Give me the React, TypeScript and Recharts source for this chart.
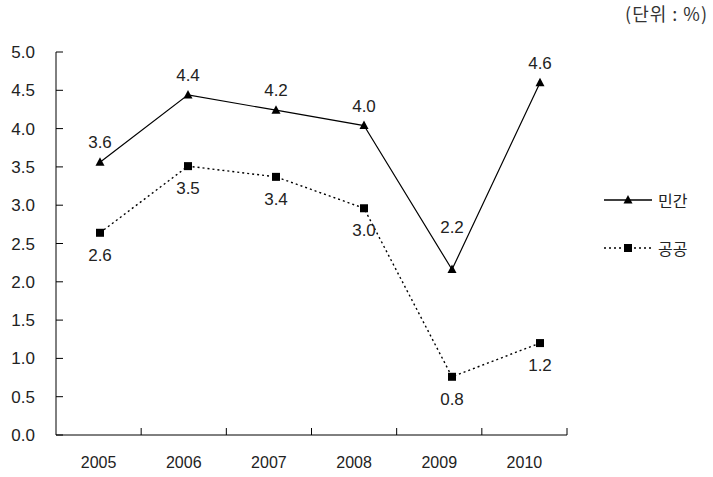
import React from 'react';
import { LineChart, Line, XAxis, YAxis, LabelList } from 'recharts';

const years = ['2005', '2006', '2007', '2008', '2009', '2010'];
const privateRate = [3.56, 4.44, 4.24, 4.04, 2.16, 4.6]; // 민간
const publicRate = [2.64, 3.51, 3.37, 2.96, 0.76, 1.2]; // 공공
const yTicks = [0, 0.5, 1, 1.5, 2, 2.5, 3, 3.5, 4, 4.5, 5];

const data = years.map((year, i) => ({ year, private: privateRate[i], public: publicRate[i] }));

const W = 713;
const H = 477;
const M = { top: 52, right: 146, bottom: 0, left: 0 };
const Y_AXIS_W = 56;
const X_AXIS_H = 42;
const PLOT_W = W - M.left - M.right - Y_AXIS_W;
const HALF_BAND = PLOT_W / years.length / 2;
// the markers in the original sit on a slightly wider spacing than the category labels
const POINT_PAD = { left: 44, right: 27 };

const NUM_FONT = '"Liberation Sans", Arial, sans-serif';
const KR_FONT = '"Noto Sans CJK KR", "Liberation Sans", sans-serif';
const TEXT = '#222';

// lifted labels where the default spot would sit on the lines
const privateLift: Record<string, number> = { '2009': 23 };

const YTick = (props: any) => {
  const { x, y, payload } = props;
  return (
    <g>
      <line x1={x} x2={x + 7} y1={y} y2={y} stroke="#000" />
      <text x={x - 21} y={y} dy={6} textAnchor="end" fontSize={17} fontFamily={NUM_FONT} fill={TEXT}>
        {Number(payload.value).toFixed(1)}
      </text>
    </g>
  );
};

const XTick = (props: any) => {
  const { x, y, payload } = props;
  return (
    <g>
      <line x1={x + HALF_BAND} x2={x + HALF_BAND} y1={y} y2={y - 7} stroke="#000" />
      <text x={x} y={y} dy={33} textAnchor="middle" fontSize={16} fontFamily={NUM_FONT} fill={TEXT}>
        {payload.value}
      </text>
    </g>
  );
};

const triangleDot = (p: any) => (
  <path
    key={`t-${p.index}`}
    d={`M${p.cx},${p.cy - 5} L${p.cx + 4.5},${p.cy + 3.5} L${p.cx - 4.5},${p.cy + 3.5} Z`}
    fill="#000"
  />
);

const squareDot = (p: any) => (
  <rect key={`s-${p.index}`} x={p.cx - 4} y={p.cy - 4} width={8} height={8} fill="#000" />
);

const aboveLabel = (p: any) => {
  const lift = privateLift[years[p.index]] ?? 0;
  return (
    <text
      key={`a-${p.index}`}
      x={p.x}
      y={p.y - 14 - lift}
      textAnchor="middle"
      fontSize={17}
      fontFamily={NUM_FONT}
      fill={TEXT}
    >
      {Number(p.value).toFixed(1)}
    </text>
  );
};

const belowLabel = (p: any) => (
  <text
    key={`b-${p.index}`}
    x={p.x}
    y={p.y + 28}
    textAnchor="middle"
    fontSize={17}
    fontFamily={NUM_FONT}
    fill={TEXT}
  >
    {Number(p.value).toFixed(1)}
  </text>
);

const legendItems = [
  { name: '민간', dash: undefined as string | undefined, marker: 'triangle' },
  { name: '공공', dash: '2 3', marker: 'square' },
];

export default function App() {
  return (
    <div style={{ position: 'absolute', left: 0, top: 0, width: W, height: H, background: '#fff' }}>
      <LineChart width={W} height={H} data={data} margin={M}>
        <XAxis
          dataKey="year"
          height={X_AXIS_H}
          padding={{ left: HALF_BAND, right: HALF_BAND }}
          tickSize={0}
          tickMargin={0}
          tickLine={false}
          axisLine={{ stroke: '#000' }}
          tick={<XTick />}
          interval={0}
        />
        <XAxis xAxisId="pts" dataKey="year" padding={POINT_PAD} hide />
        <YAxis
          width={Y_AXIS_W}
          domain={[0, 5]}
          ticks={yTicks}
          tickSize={0}
          tickMargin={0}
          tickLine={false}
          axisLine={{ stroke: '#000' }}
          tick={<YTick />}
          interval={0}
        />
        <Line
          xAxisId="pts"
          dataKey="private"
          stroke="#000"
          strokeWidth={1.2}
          dot={triangleDot}
          activeDot={false}
          isAnimationActive={false}
        >
          <LabelList dataKey="private" content={aboveLabel} />
        </Line>
        <Line
          xAxisId="pts"
          dataKey="public"
          stroke="#000"
          strokeWidth={1.4}
          strokeDasharray="2 3"
          dot={squareDot}
          activeDot={false}
          isAnimationActive={false}
        >
          <LabelList dataKey="public" content={belowLabel} />
        </Line>
      </LineChart>

      <div
        style={{
          position: 'absolute',
          right: 5,
          top: 0,
          fontFamily: KR_FONT,
          fontSize: 18,
          letterSpacing: 1,
          color: '#333',
        }}
      >
        (단위 : %)
      </div>

      <div style={{ position: 'absolute', left: 602, top: 188 }}>
        {legendItems.map((item) => (
          <div key={item.name} style={{ display: 'flex', alignItems: 'center', height: 24, marginBottom: 24 }}>
            <svg width={52} height={24}>
              <line x1={2} x2={50} y1={12} y2={12} stroke="#000" strokeWidth={1.3} strokeDasharray={item.dash} />
              {item.marker === 'triangle' ? (
                <path d="M26,7 L30.5,15.5 L21.5,15.5 Z" fill="#000" />
              ) : (
                <rect x={22} y={8} width={8} height={8} fill="#000" />
              )}
            </svg>
            <span style={{ fontFamily: KR_FONT, fontSize: 16, color: TEXT, marginLeft: 4 }}>{item.name}</span>
          </div>
        ))}
      </div>
    </div>
  );
}
